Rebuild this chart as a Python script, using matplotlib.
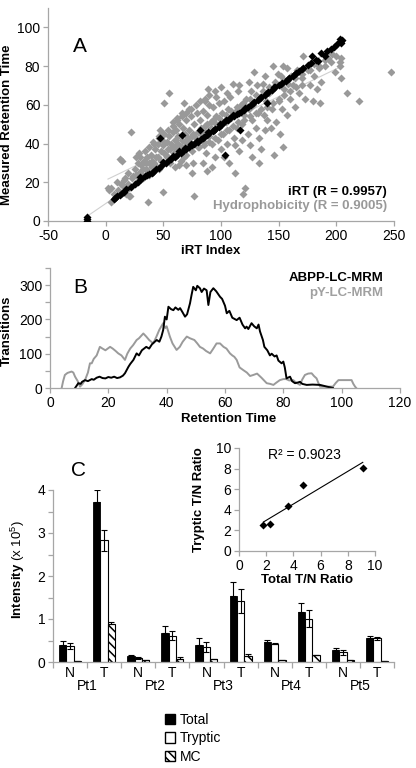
import matplotlib.pyplot as plt
import numpy as np
from matplotlib.patches import Patch

plt.rcParams['font.family'] = ['Liberation Sans', 'DejaVu Sans']
plt.rcParams['axes.unicode_minus'] = False
plt.rcParams['mathtext.fontset'] = 'custom'
plt.rcParams['mathtext.rm'] = 'Liberation Sans'
plt.rcParams['mathtext.bf'] = 'Liberation Sans:bold'
plt.rcParams['hatch.linewidth'] = 1.1

# Panel A: iRT index vs measured retention time
irt_x = [-16, -16, -16, 7, 8, 10, 12, 14, 16, 18, 22, 25, 28, 31, 34, 36, 38, 41, 44, 46,
         49, 52, 55, 57, 60, 62, 65, 67, 70, 72, 75, 77, 80, 83, 85, 88, 90, 93, 95, 98,
         100, 103, 106, 108, 111, 114, 117, 120, 123, 126, 129, 132, 135, 138, 141, 144,
         147, 150, 153, 156, 159, 162, 165, 168, 171, 175, 179, 184, 187, 190, 195, 204, 205,
         66, 82, 103.5, 116.5, 139.7, 47, 204, 203,
         30, 40, 50, 58, 64, 69, 74, 79, 84, 89, 94, 99, 104, 110, 116, 121, 128, 134, 140,
         146, 152, 158, 164, 170, 178, 182, 192, 198, 201]
irt_y = [0, 1, 2, 11.5, 12, 12.8, 13.6, 14.5, 15, 16.5, 17.5, 19, 20, 21.5, 23, 23.5, 24.5, 25.5,
         27, 27.5, 29, 30, 31.5, 32, 33, 34, 35, 36, 37, 38, 39, 40, 41, 42.5, 43.5, 44.5, 45.5,
         46.5, 47.5, 48.5, 49.5, 51, 52, 53, 54, 55.5, 56.5, 57.5, 59, 60, 61.5, 62.5, 64, 65,
         66.5, 67.5, 69, 70, 71.5, 72.5, 74, 75, 76.5, 77.5, 79, 80.5, 85, 82.5, 87, 85, 89, 93, 93.5,
         44.6, 47, 34.2, 47.2, 61, 43, 92, 94,
         22.5, 25, 30.5, 33.5, 36, 37.5, 40, 41.5, 43, 46, 47, 50, 52, 54.5, 56, 58.5, 61, 63.5, 66,
         69, 71, 73.5, 76, 78.5, 81.5, 83, 88, 90, 91.5]

hyd_x = [2, 3, 5, 5, 8, 10, 12, 14, 15, 17, 18, 19, 20, 21, 22, 24, 20, 7,
         25, 27, 28, 30, 31, 32, 33, 35, 36, 37, 38, 38, 39, 40, 26, 29,
         42, 43, 44, 45, 46, 47, 48, 49, 50, 50, 51, 52, 53, 54, 55, 56, 57, 58, 59, 60, 51, 55, 46, 41, 58,
         61, 62, 63, 64, 65, 66, 67, 68, 69, 70, 71, 72, 73, 74, 75, 76, 77, 78, 79, 80, 62, 66, 70, 75, 77, 64, 72, 68,
         81, 82, 83, 84, 85, 86, 87, 88, 89, 90, 91, 92, 93, 94, 95, 96, 97, 98, 99, 100, 84, 88, 92, 96, 90, 86,
         101, 102, 103, 104, 105, 106, 107, 108, 109, 110, 111, 112, 113, 114, 115, 116, 117, 118, 119, 120, 103, 107, 112, 118, 105, 116,
         121, 122, 123, 124, 125, 126, 127, 128, 129, 130, 131, 132, 133, 134, 135, 136, 137, 138, 139, 140, 127, 133, 124, 138,
         142, 144, 145, 146, 147, 148, 150, 151, 152, 154, 154, 155, 157, 158, 160, 143, 149, 153, 157,
         162, 164, 166, 168, 170, 171, 173, 175, 177, 179, 181, 183, 185, 187, 190, 193, 196, 199, 186, 180,
         203, 203, 204, 209, 220, 247, 204,
         11, 13, 16, 19, 23, 26, 29, 32, 35, 37, 40, 43, 45, 48, 51, 53, 56, 59, 61, 63, 66, 69, 71, 73,
         76, 78, 81, 83, 86, 88, 91, 93, 96, 98, 101, 104, 106, 109, 111, 114, 117, 119, 122, 125, 127,
         130, 133, 136, 139, 142, 145, 148, 151, 155, 158, 161, 164, 167, 170, 174, 177, 181, 185, 190,
         195, 200,
         60, 65, 70, 75, 80, 85, 90, 95, 100, 105, 110, 115, 120, 125, 130, 135, 140, 145, 150, 155,
         160, 165, 170,
         30, 34, 38, 42, 46, 50, 54, 58, 62, 66, 70, 74, 78, 82, 86, 90, 95, 100]
hyd_y = [17, 16, 10, 17, 12, 20, 32, 31, 18, 22, 14, 25, 13, 13, 46, 23, 17, 14,
         27, 20, 30, 25, 29, 22, 31, 27, 33, 10, 30, 24, 34, 28, 33, 35,
         30, 37, 33, 40, 27, 47, 36, 42, 15, 39, 45, 34, 41, 37, 44, 30, 40, 46, 35, 42, 61, 66, 44, 41, 51,
         47, 38, 44, 50, 36, 42, 48, 33, 45, 52, 40, 47, 38, 54, 44, 30, 50, 41, 56, 46, 53, 56, 29, 25, 13, 29, 58, 61,
         38, 52, 45, 57, 41, 49, 35, 55, 68, 44, 51, 40, 59, 47, 33, 54, 42, 61, 50, 37, 30, 26, 28, 64, 60, 62,
         56, 45, 62, 51, 40, 58, 47, 64, 53, 71, 43, 25, 57, 48, 67, 36, 60, 50, 14, 55, 33, 30, 39, 42, 66, 70,
         17, 63, 45, 58, 39, 67, 52, 60, 77, 48, 70, 56, 43, 64, 37, 71, 55, 47, 62, 52, 33, 30, 72, 75,
         66, 58, 80, 34, 72, 51, 62, 45, 75, 38, 80, 68, 55, 73, 63, 48, 76, 58, 79,
         70, 59, 78, 66, 74, 85, 63, 78, 70, 82, 75, 68, 80, 72, 80, 84, 86, 77, 61, 62,
         82, 80, 74, 66, 62, 77, 84,
         16, 19, 21, 19, 22, 24, 25, 27, 30, 26, 31, 29, 33, 31, 35, 33, 37, 38, 35, 40, 38, 41, 43, 41,
         45, 43, 46, 48, 46, 50, 48, 52, 50, 53, 51, 55, 53, 57, 55, 59, 57, 61, 59, 63, 61,
         65, 63, 67, 66, 69, 68, 71, 70, 73, 71, 75, 74, 77, 76, 79, 78, 81, 79, 83,
         82, 85,
         28, 31, 34, 36, 38, 39, 41, 43, 45, 47, 49, 51, 52, 54, 56, 58, 59, 61, 63, 65,
         67, 69, 70,
         33, 36, 38, 40, 43, 45, 47, 49, 52, 54, 56, 58, 60, 62, 63, 65, 67, 69]

# Panel B: transitions vs retention time
abpp_t = [8.6, 9, 9.7, 10.5, 11, 12, 13, 14.3, 15, 16, 17, 18, 19, 20, 21, 22, 23, 24, 25, 25.7,
          26.9, 27.5, 28.6, 29.7, 30.5, 31.5, 33, 34, 35, 36.6, 37.5, 38.2, 38.8, 39.4, 40, 40.6,
          41.5, 42.3, 43, 44, 44.6, 45.5, 46.3, 47, 48, 48.5, 49.1, 50, 50.5, 51.4, 52, 52.8, 53.7,
          54.3, 55, 56, 57, 58.3, 59, 60, 60.6, 61.5, 62.5, 64, 65, 66, 66.9, 67.4, 68, 69.1, 70,
          70.9, 71.5, 72, 73, 73.5, 74.5, 75.4, 76, 77, 77.7, 78.3, 79.4, 80, 80.5, 81.1, 82.3, 83,
          84, 85, 85.7, 86.5, 88, 90, 92.6, 94, 94.9, 96, 97]
abpp_n = [0, 5, 14, 12, 18, 23, 20, 26, 24, 30, 33, 29, 28, 32, 30, 33, 29, 31, 36, 43,
          62, 70, 82, 101, 95, 110, 120, 115, 128, 140, 135, 150, 169, 208, 200, 237,
          230, 227, 235, 228, 233, 220, 208, 215, 247, 270, 295, 285, 298, 291, 280, 290, 285,
          242, 280, 291, 282, 266, 260, 240, 218, 225, 205, 198, 205, 185, 174, 179, 172, 189, 180,
          174, 185, 165, 140, 120, 110, 95, 100, 92, 95, 80, 72, 77, 60, 28, 33, 20,
          14, 16, 18, 12, 9, 10, 9, 6, 4, 2, 0]
py_t = [4, 4.5, 5.1, 6, 7.4, 8, 8.6, 9.5, 10.3, 11, 12, 13, 13.7, 14.3, 15, 16, 17.1, 18, 19,
        20.6, 21.5, 22.5, 23.4, 24.5, 25.7, 26.5, 27.5, 28.5, 29.7, 30.5, 32, 33, 34, 35.4, 36.5,
        37.5, 38.8, 39.5, 40, 41.1, 42, 43.4, 44.5, 45.5, 46.9, 48, 49.5, 50.5, 51.4, 52.5, 53.5,
        54.9, 56, 57.1, 58.3, 59.5, 60.5, 61.7, 62.5, 63.2, 64, 65, 66.3, 67.5, 68.6, 69.7, 71,
        72.5, 74.3, 75.5, 76.6, 77.5, 78.8, 80, 81, 82, 83.4, 84.5, 85.7, 86.5, 87.4, 88.5, 89.7,
        90.5, 91.4, 92, 92.6, 95, 97, 98, 98.9, 101, 103.4, 104, 104.6, 105]
py_n = [0, 20, 38, 44, 48, 45, 33, 20, 4, 10, 23, 45, 72, 72, 85, 95, 120, 115, 110,
        120, 115, 108, 101, 95, 82, 100, 115, 125, 140, 145, 159, 150, 140, 130, 150,
        170, 189, 175, 180, 150, 130, 111, 120, 135, 150, 145, 140, 130, 120, 115, 108,
        101, 115, 130, 130, 120, 115, 101, 95, 91, 82, 60, 52, 45, 35, 38, 42,
        30, 14, 12, 9, 15, 23, 26, 26, 22, 23, 15, 9, 25, 38, 42, 43,
        35, 28, 15, 4, 4, 4, 15, 23, 23, 23, 12, 4, 0]

# Panel C: intensities (x 10^5)
patients = ['Pt1', 'Pt2', 'Pt3', 'Pt4', 'Pt5']
tissue = ['N', 'T'] * 5
total = [0.39, 3.71, 0.14, 0.68, 0.40, 1.54, 0.47, 1.17, 0.29, 0.55]
total_err = [0.10, 0.29, 0.03, 0.16, 0.15, 0.32, 0.04, 0.20, 0.04, 0.06]
tryptic = [0.37, 2.83, 0.10, 0.61, 0.35, 1.42, 0.43, 1.01, 0.23, 0.55]
tryptic_err = [0.07, 0.25, 0.02, 0.10, 0.12, 0.27, 0.02, 0.19, 0.06, 0.03]
mc = [0.03, 0.89, 0.04, 0.08, 0.06, 0.13, 0.04, 0.155, 0.05, 0.02]
mc_err = [0.0, 0.04, 0.0, 0.04, 0.0, 0.05, 0.0, 0.015, 0.0, 0.0]

# Inset: T/N ratios
total_ratio = [1.8, 2.3, 3.6, 4.7, 9.1]
tryptic_ratio = [2.5, 2.6, 4.4, 6.4, 8.1]

W, H = 416, 768
AXC = '#a6a6a6'
GRAY = '#999999'


def fx(px):
    return px / W


def fy(py):
    return 1 - py / H


def style(ax):
    for s in ['top', 'right']:
        ax.spines[s].set_visible(False)
    for s in ['left', 'bottom']:
        ax.spines[s].set_color(AXC)
        ax.spines[s].set_linewidth(0.9)
    ax.tick_params(which='both', color=AXC, length=3.5, width=0.9, labelsize=10, pad=2)


fig = plt.figure(figsize=(W / 100, H / 100), dpi=100)

# ---- A
axA = fig.add_axes([fx(48), fy(221), (394 - 48) / W, (221 - 8) / H])
style(axA)
for xs, ys in [(hyd_x, hyd_y), (irt_x, irt_y)]:
    k, b = np.polyfit(xs, ys, 1)
    xl = np.array([min(xs), max(irt_x)])
    axA.plot(xl, k * xl + b, color='#d0d0d0', lw=0.8, zorder=1)
axA.plot(hyd_x, hyd_y, 'D', color=GRAY, ms=4.2, mec='none', zorder=2)
axA.plot(irt_x, irt_y, 'D', color='black', ms=4.5, mec='none', zorder=3)
axA.set_xlim(-50, 250)
axA.set_ylim(0, 110)
axA.set_xticks(range(-50, 251, 50))
axA.set_yticks(range(0, 101, 20))
axA.set_xlabel('iRT Index', fontweight='bold', fontsize=9.5)
axA.set_ylabel('Measured Retention Time', fontweight='bold', fontsize=9.5)
axA.xaxis.set_label_coords(0.47, -0.115)
axA.yaxis.set_label_coords(-0.1, 0.45)
fig.text(fx(80), fy(47), 'A', fontsize=15, ha='center', va='center')
fig.text(fx(387), fy(192), 'iRT (R = 0.9957)', fontweight='bold', fontsize=9.5,
         ha='right', va='center')
fig.text(fx(387), fy(206), 'Hydrophobicity (R = 0.9005)', fontweight='bold', fontsize=9.5,
         ha='right', va='center', color=GRAY)

# ---- B
axB = fig.add_axes([fx(50), fy(388), (400 - 50) / W, (388 - 268) / H])
style(axB)
axB.plot(py_t, py_n, color='#9a9a9a', lw=1.4)
axB.plot(abpp_t, abpp_n, color='black', lw=1.4)
axB.set_xlim(0, 120)
axB.set_ylim(0, 350)
axB.set_xticks(range(0, 121, 20))
axB.set_yticks([0, 100, 200, 300])
axB.set_yticks([50, 150, 250, 350], minor=True)
axB.set_xlabel('Retention Time', fontweight='bold', fontsize=9.5)
axB.set_ylabel('Transitions', fontweight='bold', fontsize=9.5)
axB.xaxis.set_label_coords(0.51, -0.21)
axB.yaxis.set_label_coords(-0.105, 0.48)
fig.text(fx(80), fy(287), 'B', fontsize=15, ha='center', va='center')
fig.text(fx(383), fy(278), 'ABPP-LC-MRM', fontweight='bold', fontsize=9.5,
         ha='right', va='center')
fig.text(fx(383), fy(293), 'pY-LC-MRM', fontweight='bold', fontsize=9.5,
         ha='right', va='center', color='#a0a0a0')

# ---- C
axC = fig.add_axes([fx(53), fy(662), (394 - 53) / W, (662 - 490) / H])
style(axC)
x = np.arange(len(tissue))
w = 0.215
ekw = dict(ecolor='black', elinewidth=0.8, capsize=2.5, capthick=0.8)
zeros = [0] * len(x)
axC.bar(x - w, total, w, color='black', edgecolor='black', lw=0.6,
        yerr=[zeros, total_err], error_kw=ekw)
axC.bar(x, tryptic, w, color='white', edgecolor='black', lw=0.8,
        yerr=tryptic_err, error_kw=ekw)
axC.bar(x + w, mc, w, color='white', edgecolor='black', lw=0.8, hatch='\\\\\\\\',
        yerr=[zeros, mc_err], error_kw=ekw)
axC.set_xlim(-0.5, len(x) - 0.5)
axC.set_ylim(0, 4)
axC.set_yticks(range(0, 5))
axC.set_yticks(np.arange(0.5, 4, 1), minor=True)
axC.set_xticks(np.arange(-0.5, len(x), 1))
axC.set_xticklabels([])
axC.tick_params(axis='x', length=4)
tr = axC.get_xaxis_transform()
for i, t in enumerate(tissue):
    axC.text(i, -0.065, t, transform=tr, ha='center', va='center', fontsize=10)
for j, p in enumerate(patients):
    axC.text(2 * j + 0.5, -0.14, p, transform=tr, ha='center', va='center', fontsize=10)
axC.set_ylabel(r'$\mathbf{Intensity}$ (x 10$^{5}$)', fontsize=9.5)
axC.yaxis.set_label_coords(-0.075, 0.54)
fig.text(fx(78), fy(470), 'C', fontsize=15, ha='center', va='center')

handles = [Patch(facecolor='black', edgecolor='black'),
           Patch(facecolor='white', edgecolor='black'),
           Patch(facecolor='white', edgecolor='black', hatch='\\\\\\\\')]
fig.legend(handles, ['Total', 'Tryptic', 'MC'], loc='upper left',
           bbox_to_anchor=(fx(158), fy(706)), frameon=False, fontsize=10,
           handlelength=0.75, handleheight=0.75, handletextpad=0.35, labelspacing=0.32,
           borderpad=0)

# ---- inset
axI = fig.add_axes([fx(239), fy(551), (375 - 239) / W, (551 - 448) / H])
style(axI)
k, b = np.polyfit(total_ratio, tryptic_ratio, 1)
xl = np.array([min(total_ratio), max(total_ratio)])
axI.plot(xl, k * xl + b, color='black', lw=0.8)
axI.plot(total_ratio, tryptic_ratio, 'D', color='black', ms=4, mec='none')
axI.set_xlim(0, 10)
axI.set_ylim(0, 10)
axI.set_xticks(range(0, 11, 2))
axI.set_yticks(range(0, 11, 2))
axI.set_xlabel('Total T/N Ratio', fontweight='bold', fontsize=9.5)
axI.set_ylabel('Tryptic T/N Ratio', fontweight='bold', fontsize=9.5)
axI.xaxis.set_label_coords(0.5, -0.225)
axI.yaxis.set_label_coords(-0.25, 0.5)
axI.text(0.21, 0.93, 'R² = 0.9023', transform=axI.transAxes, fontsize=10,
         ha='left', va='center')

fig.savefig('out.png', dpi=100)
